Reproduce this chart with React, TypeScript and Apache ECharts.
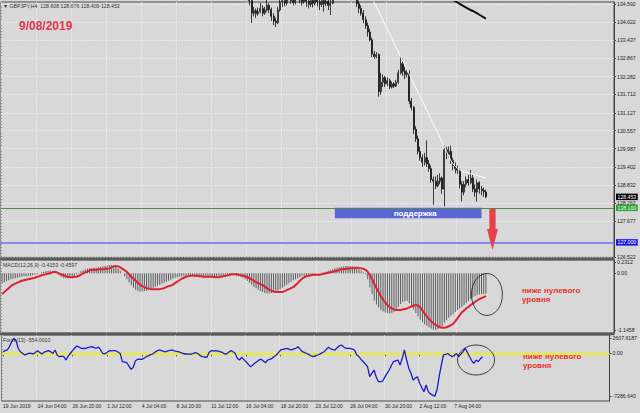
import React, { useEffect, useRef } from 'react';
import * as echarts from 'echarts';

const SLOT_COUNT = 280;
const LABEL_STEP = 16;
const timeLabels = ['19 Jun 2019', '24 Jun 04:00', '26 Jun 20:00', '1 Jul 12:00', '4 Jul 04:00', '8 Jul 20:00', '11 Jul 12:00', '16 Jul 04:00', '18 Jul 20:00', '23 Jul 12:00', '26 Jul 04:00', '30 Jul 20:00', '2 Aug 12:00', '7 Aug 04:00'];

const priceTickValues = [134.592, 134.022, 133.437, 132.867, 132.282, 131.712, 131.127, 130.557, 129.987, 129.402, 128.832, 128.262, 127.677, 126.522];
const macdTickValues = [0.2312, 0, -1.1458];
const macdTickTexts = ['0.2312', '0.00', '-1.1458'];
const forceTickValues = [2607.6187, 0, -7286.64];
const forceTickTexts = ['2607.6187', '0.00', '-7286.640'];

// [open, close, low, high] from bar 113 to bar 221
const candleStartIndex = 113;
const candles = [
  [134.95, 134.70, 134.55, 135.05], [134.70, 134.30, 133.99, 134.78], [134.30, 134.38, 134.20, 134.50], [134.38, 134.28, 134.15, 134.45],
  [134.28, 134.35, 134.22, 134.48], [134.35, 134.45, 134.30, 134.62], [134.45, 134.30, 134.20, 134.55], [134.30, 134.40, 134.25, 134.50],
  [134.40, 134.55, 134.35, 134.75], [134.55, 134.42, 134.30, 134.62], [134.42, 134.20, 134.05, 134.48], [134.20, 134.05, 133.92, 134.30],
  [134.05, 134.00, 133.86, 134.15], [134.00, 134.40, 133.95, 134.50], [134.40, 134.65, 134.35, 134.80], [134.65, 134.70, 134.50, 134.85],
  [134.70, 134.62, 134.52, 134.90], [134.62, 134.75, 134.55, 134.85], [134.75, 134.80, 134.68, 134.95], [134.80, 134.70, 134.60, 134.90],
  [134.70, 134.64, 134.55, 134.80], [134.64, 134.78, 134.58, 134.90], [134.78, 134.85, 134.70, 135.00], [134.85, 134.72, 134.62, 134.95],
  [134.72, 134.66, 134.54, 134.82], [134.66, 134.80, 134.60, 134.92], [134.80, 134.68, 134.50, 134.88], [134.68, 134.58, 134.45, 134.75],
  [134.58, 134.70, 134.50, 134.80], [134.70, 134.62, 134.48, 134.82], [134.62, 134.75, 134.55, 134.90], [134.75, 134.66, 134.52, 134.85],
  [134.66, 134.58, 134.40, 134.74], [134.58, 134.70, 134.50, 134.80], [134.70, 134.60, 134.35, 134.78], [134.60, 134.68, 134.52, 134.80],
  [134.68, 134.55, 134.40, 134.75], [134.55, 134.62, 134.24, 134.72], [134.62, 134.85, 134.58, 134.95], [134.85, 135.05, 134.80, 135.15],
  [135.05, 135.20, 134.98, 135.30], [135.20, 135.10, 135.00, 135.32], [135.10, 135.25, 135.02, 135.35], [135.25, 135.15, 135.05, 135.38],
  [135.15, 135.05, 134.95, 135.25], [135.05, 135.12, 134.96, 135.22], [135.12, 135.00, 134.90, 135.20], [135.00, 134.95, 134.85, 135.10],
  [134.95, 134.90, 134.80, 135.05], [134.90, 134.60, 134.50, 135.00], [134.60, 134.45, 134.30, 134.70], [134.45, 134.30, 134.22, 134.55],
  [134.30, 134.10, 133.98, 134.40], [134.10, 133.90, 133.80, 134.20], [133.90, 133.70, 133.55, 134.00], [133.70, 133.45, 133.40, 133.80],
  [133.45, 133.00, 132.90, 133.52], [133.00, 132.92, 132.85, 133.10], [132.92, 132.98, 132.86, 133.06], [132.98, 131.80, 131.64, 133.02],
  [131.80, 132.10, 131.70, 132.40], [132.10, 132.25, 131.95, 132.35], [132.25, 132.05, 131.95, 132.30], [132.05, 132.15, 131.98, 132.25],
  [132.15, 131.95, 131.88, 132.22], [131.95, 132.05, 131.90, 132.12], [132.05, 131.98, 131.92, 132.10], [131.98, 132.10, 131.95, 132.18],
  [132.10, 132.40, 132.05, 132.50], [132.40, 132.70, 132.35, 132.95], [132.70, 132.45, 132.30, 132.85], [132.45, 132.35, 132.20, 132.60],
  [132.35, 132.40, 132.25, 132.55], [132.40, 131.50, 131.40, 132.48], [131.50, 131.30, 131.20, 131.60], [131.30, 130.60, 130.45, 131.35],
  [130.60, 130.30, 130.20, 130.70], [130.30, 129.90, 129.80, 130.40], [129.90, 129.70, 129.60, 130.05], [129.70, 129.55, 129.40, 129.80],
  [129.55, 129.70, 129.45, 129.85], [129.70, 129.50, 129.40, 130.25], [129.50, 129.35, 129.25, 129.62], [129.35, 129.00, 128.90, 129.45],
  [129.00, 128.95, 128.20, 129.10], [128.95, 128.80, 128.70, 129.10], [128.80, 128.95, 128.75, 129.15], [128.95, 129.05, 128.85, 129.20],
  [129.05, 128.70, 128.55, 129.10], [128.70, 129.95, 128.15, 130.10], [129.95, 129.80, 129.65, 130.05], [129.80, 129.90, 129.70, 130.05],
  [129.90, 129.60, 129.50, 130.08], [129.60, 129.45, 129.30, 129.70], [129.45, 129.35, 129.20, 129.55], [129.35, 129.30, 129.18, 129.45],
  [129.30, 128.85, 128.72, 129.35], [128.85, 128.60, 128.30, 128.95], [128.60, 128.85, 128.50, 128.95], [128.85, 129.00, 128.75, 129.10],
  [129.00, 128.90, 128.80, 129.15], [128.90, 129.05, 128.85, 129.30], [129.05, 128.70, 128.60, 129.15], [128.70, 128.60, 128.45, 128.85],
  [128.60, 128.90, 128.30, 129.00], [128.90, 128.70, 128.55, 128.95], [128.70, 128.65, 128.50, 128.80], [128.65, 128.608, 128.45, 128.75],
  [128.608, 128.453, 128.409, 128.676],
];

const whiteLineStart = 168;
const whiteLine = [134.92, 134.78, 134.63, 134.49, 134.35, 134.21, 134.06, 133.92, 133.78, 133.63, 133.49, 133.35, 133.21, 133.06, 132.92, 132.78, 132.63, 132.49, 132.35, 132.20, 132.06, 131.92, 131.78, 131.63, 131.49, 131.35, 131.20, 131.06, 130.92, 130.78, 130.63, 130.49, 130.35, 130.20, 130.06, 129.90, 129.74, 129.60, 129.50, 129.42, 129.36, 129.31, 129.28, 129.25, 129.23, 129.21, 129.19, 129.17, 129.15, 129.13, 129.11, 129.09, 129.07, 129.06];
const blackLineStart = 203;
const blackLine = [134.84, 134.80, 134.76, 134.72, 134.68, 134.64, 134.60, 134.56, 134.52, 134.48, 134.44, 134.40, 134.37, 134.33, 134.29, 134.25, 134.21, 134.17, 134.13];

const macdHistogram = [
  -0.20, -0.18, -0.16, -0.14, -0.12, -0.11, -0.10, -0.09, -0.08,
  -0.07, -0.06, -0.06, -0.05, -0.05, -0.04, -0.03, -0.02,
  0.00, 0.02, 0.03, 0.04, 0.05, 0.05, 0.04, 0.02,
  -0.01, -0.04, -0.07, -0.09, -0.10, -0.10, -0.09, -0.07, -0.05,
  -0.02, 0.01, 0.04, 0.06, 0.08, 0.09, 0.10,
  0.10, 0.11, 0.11, 0.12, 0.13, 0.14, 0.15, 0.16, 0.17, 0.17, 0.16, 0.14,
  0.10, 0.05, 0.00, -0.06, -0.12, -0.18,
  -0.24, -0.29, -0.33, -0.36, -0.37, -0.37, -0.36, -0.35,
  -0.33, -0.31, -0.29, -0.27, -0.25, -0.23, -0.21, -0.19, -0.17, -0.15, -0.13, -0.11, -0.09, -0.08, -0.07,
  -0.06, -0.05, -0.05, -0.04, -0.04, -0.05, -0.06, -0.07, -0.07, -0.06, -0.05, -0.05, -0.06, -0.07, -0.08, -0.08, -0.07, -0.06, -0.05, -0.04, -0.03, -0.02, -0.02, -0.03, -0.04, -0.05, -0.06, -0.07, -0.09,
  -0.12, -0.15, -0.19, -0.23, -0.27, -0.30, -0.33, -0.36, -0.38, -0.40, -0.41, -0.41, -0.40, -0.39,
  -0.37, -0.35, -0.32, -0.29, -0.26, -0.23, -0.20, -0.17, -0.14, -0.12, -0.10, -0.08, -0.06,
  -0.05, -0.04, -0.03, -0.02, -0.02, -0.01, 0.00, 0.00, 0.01, 0.02, 0.03,
  0.05, 0.06, 0.08, 0.10, 0.11, 0.12, 0.13, 0.14, 0.15, 0.15, 0.15, 0.14, 0.13, 0.11, 0.08, 0.05, 0.02, -0.02,
  -0.12, -0.28, -0.42, -0.55, -0.63, -0.69, -0.74, -0.77, -0.79, -0.80, -0.81, -0.80, -0.78, -0.74,
  -0.68, -0.62, -0.58, -0.56, -0.56, -0.60, -0.66, -0.73, -0.80, -0.87,
  -0.94, -0.99, -1.03, -1.06, -1.09, -1.12, -1.14, -1.1458, -1.13, -1.10, -1.07,
  -1.00, -0.95, -0.90, -0.86, -0.82, -0.78, -0.74, -0.71, -0.68, -0.64, -0.60, -0.56, -0.52, -0.49, -0.46, -0.44, -0.43, -0.42, -0.42, -0.4153,
];

const macdSignal = [
  -0.42, -0.38, -0.34, -0.30, -0.26, -0.23, -0.21, -0.19, -0.17, -0.15,
  -0.14, -0.13, -0.12, -0.11, -0.10, -0.09, -0.07, -0.06, -0.04, -0.03,
  -0.02, -0.01, 0.00, 0.02, 0.03, 0.02, 0.00, -0.02, -0.04, -0.06,
  -0.07, -0.08, -0.08, -0.07, -0.07, -0.05, -0.03, 0.00, 0.02, 0.04,
  0.06, 0.07, 0.07, 0.07, 0.08, 0.08, 0.08, 0.09, 0.09, 0.10,
  0.12, 0.14, 0.15, 0.14, 0.12, 0.09, 0.06, 0.03, -0.02, -0.07,
  -0.11, -0.15, -0.19, -0.23, -0.26, -0.28, -0.30, -0.31, -0.32, -0.32,
  -0.32, -0.32, -0.32, -0.31, -0.30, -0.28, -0.26, -0.25, -0.23, -0.20,
  -0.17, -0.14, -0.11, -0.09, -0.07, -0.06, -0.05, -0.05, -0.05, -0.05,
  -0.06, -0.06, -0.07, -0.07, -0.07, -0.07, -0.07, -0.08, -0.08, -0.08,
  -0.07, -0.06, -0.05, -0.04, -0.03, -0.02, -0.02, -0.02, -0.03, -0.04,
  -0.05, -0.06, -0.08, -0.10, -0.12, -0.15, -0.18, -0.20, -0.22, -0.24,
  -0.27, -0.30, -0.33, -0.35, -0.37, -0.38, -0.38, -0.38, -0.38, -0.36,
  -0.34, -0.32, -0.30, -0.28, -0.24, -0.20, -0.15, -0.11, -0.08, -0.06,
  -0.05, -0.04, -0.03, -0.03, -0.03, -0.03, -0.02, -0.01, 0.00, 0.01,
  0.02, 0.03, 0.04, 0.05, 0.07, 0.08, 0.08, 0.09, 0.09, 0.10,
  0.10, 0.11, 0.11, 0.11, 0.10, 0.09, 0.07, 0.03, -0.04, -0.12,
  -0.21, -0.30, -0.38, -0.46, -0.53, -0.59, -0.64, -0.68, -0.71, -0.73,
  -0.74, -0.74, -0.74, -0.73, -0.72, -0.71, -0.69, -0.67, -0.65, -0.64,
  -0.65, -0.69, -0.75, -0.81, -0.87, -0.92, -0.97, -1.01, -1.04, -1.07,
  -1.09, -1.10, -1.10, -1.09, -1.07, -1.05, -1.02, -0.97, -0.91, -0.85,
  -0.79, -0.75, -0.71, -0.68, -0.64, -0.61, -0.58, -0.55, -0.52, -0.50,
  -0.48, -0.4597,
];

const forceIndex = [
  300, 500, 600, 1200, 2000, 2607, 2200, 900, 300, 50,
  -250, -100, 50, 0, -80, 200, 480, 150, -80, 250,
  350, 480, 300, 0, 600, -300, -550, -450, -550, -1100,
  -500, 0, 500, 900, 1280, 1100, 890, 850, 890, 1000,
  1100, 1160, 1000, 890, 1100, 600, 0, -50, 200, 480,
  450, 480, 480, 250, 0, -1400, -1450, -1570, -2100, -2700,
  -2400, -1300, -990, -950, -990, -800, -550, -400, -200, -85,
  200, 450, 600, 500, 350, 300, 450, 550, 600, 450,
  350, 300, 150, 0, -85, -85, -100, -85, 50, 136,
  -85, -400, -550, -600, -650, 200, 480, 450, 480, 400,
  307, 200, -50, -85, 200, 478, 300, 0, -800, -1109,
  -650, -1000, -1400, -1800, -2250, -2000, -1670, -1400, -1100, -990,
  -1300, -1570, -1109, -1000, -820, -500, -256, 200, 600, 700,
  800, 887, 700, 600, 800, 887, 1160, 700, 307, 150,
  0, -200, -400, -546, -400, -256, -100, 100, 307, 700,
  1058, 800, 650, 600, 1000, 1300, 1450, 1100, 887, 887,
  887, 750, 600, -200, -546, -1000, -1400, -1800, -2250, -3960,
  -3400, -2815, -4000, -4810, -4810, -4700, -4000, -3380, -2815, -2000,
  -1400, -1250, -1109, -1960, -820, 600, -1109, -2500, -3380, -4520,
  -4200, -3960, -5080, -5800, -6520, -5370, -6500, -6900, -7100, -7280,
  -6230, -3960, -2000, -256, -150, 0, -300, -546, -300, 0,
  -546, -100, 307, 887, 200, -546, -1200, -1670, -1109, -1400,
  -900, -554.001,
];

const supportLevel = 128.1;
const targetLevel = 127.0;
const supportZone = { from: 152, to: 219, low: 127.77, text: 'поддержка' };
const arrowAt = { index: 224, price: 127.41 };
const macdCircle = { index: 221, value: -0.428 };
const forceCircle = { index: 218, value: -1109 };
const noteText = ['ниже нулевого', 'уровня'];

const FONT = '"Liberation Sans", Arial, sans-serif';
const BG = '#d8d8d8';
const GRIDLINE = { color: '#ededed', type: [2, 1] as any, width: 0.8 };

function pad(start: number, arr: number[], len: number) {
  const out: (number | null)[] = [];
  for (let i = 0; i < len; i++) out.push(i >= start && i - start < arr.length ? arr[i - start] : null);
  return out;
}

function buildOption() {
  const categories = Array.from({ length: SLOT_COUNT }, (_, i) => String(i));
  const isLabelIdx = (i: number) => i % LABEL_STEP === 0 && i / LABEL_STEP < timeLabels.length;
  const barCount = macdHistogram.length;
  const candleData: any[] = [];
  for (let i = 0; i < barCount; i++) {
    const c = candles[i - candleStartIndex];
    candleData.push(i >= candleStartIndex && c ? c : ['-', '-', '-', '-']);
  }
  const lastClose = candles[candles.length - 1][1];

  const mkX = (gi: number, showLabels: boolean) => ({
    type: 'category', gridIndex: gi, data: categories, boundaryGap: true,
    axisLine: { show: false },
    axisTick: { show: showLabels, interval: (i: number) => isLabelIdx(i), alignWithLabel: true, length: 3, lineStyle: { color: '#333', width: 0.8 } },
    axisLabel: {
      show: showLabels, interval: 0, align: 'left', fontSize: 5, color: '#222', margin: 2, fontFamily: FONT,
      formatter: (_v: string, i: number) => (isLabelIdx(i) ? timeLabels[i / LABEL_STEP] : ''),
    },
    splitLine: { show: true, interval: (i: number) => isLabelIdx(i), lineStyle: GRIDLINE },
  });
  const yCommon = {
    type: 'value', position: 'right',
    axisLine: { show: true, lineStyle: { color: '#444', width: 1 } },
  };
  const labelStyle = { fontSize: 5.2, color: '#222', margin: 3, fontFamily: FONT };
  const ellipse = 'path://M0,50 A50,50 0 1,0 100,50 A50,50 0 1,0 0,50 Z';
  const gridBase = { left: 1, width: 613, show: true, borderColor: '#4a4a4a', borderWidth: 1, backgroundColor: 'transparent' };
  const boxLabel = (bg: string, fg: string, text: string) => ({
    show: true, position: 'end', distance: 2, formatter: text, backgroundColor: bg, color: fg,
    fontSize: 5.2, fontFamily: FONT, padding: [1, 1.5, 0.5, 1.5],
  });

  return {
    animation: false,
    backgroundColor: BG,
    grid: [
      { ...gridBase, top: 2, height: 255.4 },
      { ...gridBase, top: 260, height: 73 },
      { ...gridBase, top: 335, height: 66 },
    ],
    xAxis: [mkX(0, false), mkX(1, false), mkX(2, true)],
    yAxis: [
      {
        ...yCommon, gridIndex: 0, min: 126.522, max: 134.656,
        axisTick: { show: true, length: 2, customValues: priceTickValues, lineStyle: { color: '#444' } },
        axisLabel: { ...labelStyle, customValues: priceTickValues, formatter: (v: number) => v.toFixed(3) },
        splitLine: { show: true, lineStyle: GRIDLINE },
      },
      {
        ...yCommon, gridIndex: 1, min: -1.206, max: 0.2687,
        axisTick: { show: true, length: 2, customValues: macdTickValues, lineStyle: { color: '#444' } },
        axisLabel: { ...labelStyle, customValues: macdTickValues, formatter: (v: number) => macdTickTexts[macdTickValues.indexOf(v)] ?? '' },
        splitLine: { show: false },
      },
      {
        ...yCommon, gridIndex: 2, min: -8104, max: 3156,
        axisTick: { show: true, length: 2, customValues: forceTickValues, lineStyle: { color: '#444' } },
        axisLabel: { ...labelStyle, customValues: forceTickValues, formatter: (v: number) => forceTickTexts[forceTickValues.indexOf(v)] ?? '' },
        splitLine: { show: false },
      },
    ],
    series: [
      {
        type: 'candlestick', xAxisIndex: 0, yAxisIndex: 0, data: candleData, barWidth: 1.5,
        itemStyle: { color: '#f2f2f2', color0: '#111', borderColor: '#111', borderColor0: '#111', borderWidth: 0.8 },
        markLine: {
          silent: true, symbol: ['none', 'none'], animation: false,
          data: [
            { yAxis: supportLevel, lineStyle: { color: '#4f8a4f', width: 1, type: 'solid' }, label: boxLabel('#2ea42e', '#eaffea', supportLevel.toFixed(3)) },
            { yAxis: targetLevel, lineStyle: { color: '#8a8aec', width: 2, type: 'solid' }, label: boxLabel('#1818e4', '#ffffff', targetLevel.toFixed(3)) },
            { yAxis: lastClose, lineStyle: { color: 'rgba(0,0,0,0)', width: 0 }, label: boxLabel('#000000', '#ffffff', lastClose.toFixed(3)) },
          ],
        },
        markArea: {
          silent: true,
          itemStyle: { color: '#5b66d4' },
          label: { show: true, position: 'inside', color: '#ffffff', fontWeight: 'bold', fontSize: 8, fontFamily: FONT, offset: [7, 0] },
          data: [[{ xAxis: supportZone.from, yAxis: supportLevel, name: supportZone.text }, { xAxis: supportZone.to, yAxis: supportZone.low }]],
        },
        markPoint: {
          silent: true,
          symbol: 'path://M2.3,0 L8.3,0 L8.3,20 L10.6,20 L5.3,41 L0,20 L2.3,20 Z',
          symbolSize: [11, 41],
          itemStyle: { color: '#e3414e' },
          label: { show: false },
          data: [{ coord: [arrowAt.index, arrowAt.price] }],
        },
      },
      {
        type: 'line', xAxisIndex: 0, yAxisIndex: 0, data: pad(whiteLineStart, whiteLine, barCount),
        showSymbol: false, lineStyle: { color: '#ffffff', width: 1 }, z: 3, silent: true,
      },
      {
        type: 'line', xAxisIndex: 0, yAxisIndex: 0, data: pad(blackLineStart, blackLine, barCount),
        showSymbol: false, lineStyle: { color: '#111111', width: 2 }, z: 3, silent: true,
      },
      {
        type: 'bar', xAxisIndex: 1, yAxisIndex: 1, data: macdHistogram, barWidth: 1,
        itemStyle: { color: '#5e5e5e' }, silent: true,
      },
      {
        type: 'line', xAxisIndex: 1, yAxisIndex: 1, data: macdSignal, showSymbol: false,
        lineStyle: { color: '#dd2233', width: 2 }, z: 3, silent: true,
        markPoint: {
          silent: true, symbol: ellipse, symbolSize: [31, 42], symbolOffset: [1, 0],
          itemStyle: { color: 'rgba(0,0,0,0)', borderColor: '#1a1a1a', borderWidth: 0.8 },
          label: { show: false },
          data: [{ coord: [macdCircle.index, macdCircle.value] }],
        },
      },
      {
        type: 'line', xAxisIndex: 2, yAxisIndex: 2, data: forceIndex, showSymbol: false,
        lineStyle: { color: '#1c1cc8', width: 1.3 }, z: 3, silent: true,
        markLine: {
          silent: true, symbol: ['none', 'none'], z: 1,
          lineStyle: { color: '#eeee22', width: 2, type: 'solid' },
          label: { show: false },
          data: [{ yAxis: 0 }],
        },
        markPoint: {
          silent: true, symbol: ellipse, symbolSize: [37, 30],
          itemStyle: { color: 'rgba(0,0,0,0)', borderColor: '#1a1a1a', borderWidth: 0.8 },
          label: { show: false },
          data: [{ coord: [forceCircle.index, forceCircle.value] }],
        },
      },
    ],
    graphic: [
      { type: 'rect', z: 50, shape: { x: 0, y: 257.4, width: 614.5, height: 2.8 }, style: { fill: '#5a5a5a' } },
      { type: 'rect', z: 50, shape: { x: 0, y: 332.8, width: 614.5, height: 2.4 }, style: { fill: '#5a5a5a' } },
      { type: 'text', z: 50, x: 3, y: 6, style: { text: '▼ GBPJPY,H4  128.608 128.676 128.409 128.453', fill: '#333', fontSize: 5.2, fontFamily: FONT, verticalAlign: 'middle' } },
      { type: 'text', z: 50, x: 19, y: 25.5, style: { text: '9/08/2019', fill: '#e0384c', fontSize: 12, fontWeight: 'bold', fontFamily: FONT, verticalAlign: 'middle' } },
      { type: 'text', z: 50, x: 3, y: 265, style: { text: 'MACD(12,26,9) -0.4153 -0.4597', fill: '#333', fontSize: 5.2, fontFamily: FONT, verticalAlign: 'middle' } },
      { type: 'text', z: 50, x: 3, y: 340, style: { text: 'Force(13) -554.0010', fill: '#333', fontSize: 5.2, fontFamily: FONT, verticalAlign: 'middle' } },
      { type: 'text', z: 50, x: 522, y: 290, style: { text: noteText[0], fill: '#e63232', fontSize: 8, fontWeight: 'bold', fontFamily: FONT, verticalAlign: 'middle' } },
      { type: 'text', z: 50, x: 522, y: 299.5, style: { text: noteText[1], fill: '#e63232', fontSize: 8, fontWeight: 'bold', fontFamily: FONT, verticalAlign: 'middle' } },
      { type: 'text', z: 50, x: 523, y: 356, style: { text: noteText[0], fill: '#e63232', fontSize: 8, fontWeight: 'bold', fontFamily: FONT, verticalAlign: 'middle' } },
      { type: 'text', z: 50, x: 523, y: 365.5, style: { text: noteText[1], fill: '#e63232', fontSize: 8, fontWeight: 'bold', fontFamily: FONT, verticalAlign: 'middle' } },
    ],
  };
}

export default function App() {
  const ref = useRef<HTMLDivElement>(null);
  useEffect(() => {
    const chart = echarts.init(ref.current as HTMLDivElement, null, { renderer: 'svg' });
    chart.setOption(buildOption() as any);
    return () => chart.dispose();
  }, []);
  return <div ref={ref} style={{ position: 'fixed', left: 0, top: 0, width: 640, height: 413 }} />;
}
